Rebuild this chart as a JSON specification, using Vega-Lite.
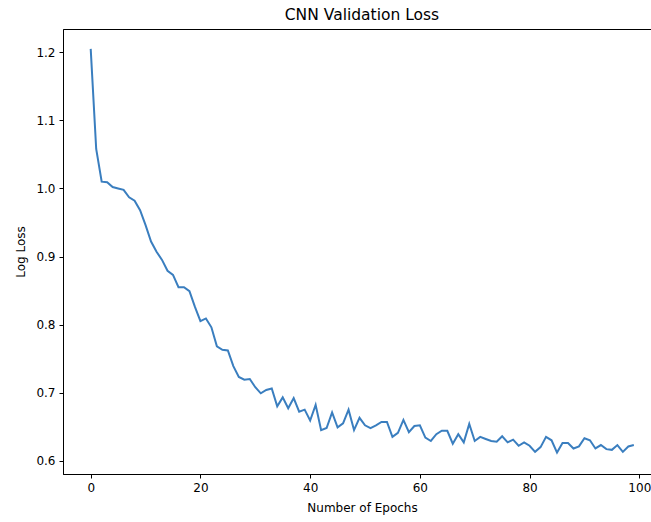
{
  "$schema": "https://vega.github.io/schema/vega-lite/v6.json",
  "autosize": "none",
  "padding": {"left": 63, "top": 29, "right": 0, "bottom": 48},
  "width": 588,
  "height": 445,
  "background": "white",
  "title": {"text": "CNN Validation Loss", "font": "DejaVu Sans", "fontSize": 15.5, "fontWeight": "normal", "color": "black", "offset": 6, "dx": 5},
  "data": {"values": [
    {"epoch": 0, "loss": 1.205}, {"epoch": 1, "loss": 1.058}, {"epoch": 2, "loss": 1.010}, {"epoch": 3, "loss": 1.009},
    {"epoch": 4, "loss": 1.002}, {"epoch": 5, "loss": 1.000}, {"epoch": 6, "loss": 0.998}, {"epoch": 7, "loss": 0.987},
    {"epoch": 8, "loss": 0.982}, {"epoch": 9, "loss": 0.968}, {"epoch": 10, "loss": 0.946}, {"epoch": 11, "loss": 0.922},
    {"epoch": 12, "loss": 0.907}, {"epoch": 13, "loss": 0.895}, {"epoch": 14, "loss": 0.879}, {"epoch": 15, "loss": 0.873},
    {"epoch": 16, "loss": 0.855}, {"epoch": 17, "loss": 0.855}, {"epoch": 18, "loss": 0.849}, {"epoch": 19, "loss": 0.826},
    {"epoch": 20, "loss": 0.805}, {"epoch": 21, "loss": 0.809}, {"epoch": 22, "loss": 0.796}, {"epoch": 23, "loss": 0.768},
    {"epoch": 24, "loss": 0.763}, {"epoch": 25, "loss": 0.762}, {"epoch": 26, "loss": 0.739}, {"epoch": 27, "loss": 0.723},
    {"epoch": 28, "loss": 0.719}, {"epoch": 29, "loss": 0.720}, {"epoch": 30, "loss": 0.708}, {"epoch": 31, "loss": 0.699},
    {"epoch": 32, "loss": 0.704}, {"epoch": 33, "loss": 0.706}, {"epoch": 34, "loss": 0.680}, {"epoch": 35, "loss": 0.693},
    {"epoch": 36, "loss": 0.677}, {"epoch": 37, "loss": 0.692}, {"epoch": 38, "loss": 0.672}, {"epoch": 39, "loss": 0.675},
    {"epoch": 40, "loss": 0.659}, {"epoch": 41, "loss": 0.682}, {"epoch": 42, "loss": 0.645}, {"epoch": 43, "loss": 0.648},
    {"epoch": 44, "loss": 0.671}, {"epoch": 45, "loss": 0.649}, {"epoch": 46, "loss": 0.655}, {"epoch": 47, "loss": 0.675},
    {"epoch": 48, "loss": 0.645}, {"epoch": 49, "loss": 0.663}, {"epoch": 50, "loss": 0.652}, {"epoch": 51, "loss": 0.648},
    {"epoch": 52, "loss": 0.652}, {"epoch": 53, "loss": 0.657}, {"epoch": 54, "loss": 0.657}, {"epoch": 55, "loss": 0.635},
    {"epoch": 56, "loss": 0.641}, {"epoch": 57, "loss": 0.660}, {"epoch": 58, "loss": 0.642}, {"epoch": 59, "loss": 0.651},
    {"epoch": 60, "loss": 0.652}, {"epoch": 61, "loss": 0.634}, {"epoch": 62, "loss": 0.629}, {"epoch": 63, "loss": 0.639},
    {"epoch": 64, "loss": 0.644}, {"epoch": 65, "loss": 0.644}, {"epoch": 66, "loss": 0.625}, {"epoch": 67, "loss": 0.639},
    {"epoch": 68, "loss": 0.627}, {"epoch": 69, "loss": 0.654}, {"epoch": 70, "loss": 0.629}, {"epoch": 71, "loss": 0.635},
    {"epoch": 72, "loss": 0.632}, {"epoch": 73, "loss": 0.629}, {"epoch": 74, "loss": 0.628}, {"epoch": 75, "loss": 0.636},
    {"epoch": 76, "loss": 0.627}, {"epoch": 77, "loss": 0.631}, {"epoch": 78, "loss": 0.622}, {"epoch": 79, "loss": 0.627},
    {"epoch": 80, "loss": 0.622}, {"epoch": 81, "loss": 0.613}, {"epoch": 82, "loss": 0.620}, {"epoch": 83, "loss": 0.635},
    {"epoch": 84, "loss": 0.630}, {"epoch": 85, "loss": 0.612}, {"epoch": 86, "loss": 0.626}, {"epoch": 87, "loss": 0.626},
    {"epoch": 88, "loss": 0.618}, {"epoch": 89, "loss": 0.621}, {"epoch": 90, "loss": 0.633}, {"epoch": 91, "loss": 0.630},
    {"epoch": 92, "loss": 0.618}, {"epoch": 93, "loss": 0.623}, {"epoch": 94, "loss": 0.617}, {"epoch": 95, "loss": 0.616},
    {"epoch": 96, "loss": 0.623}, {"epoch": 97, "loss": 0.613}, {"epoch": 98, "loss": 0.621}, {"epoch": 99, "loss": 0.623}
  ]},
  "mark": {"type": "line", "color": "#3a7ebf", "strokeWidth": 2, "clip": true},
  "encoding": {
    "x": {"field": "epoch", "type": "quantitative",
      "scale": {"domain": [-5.05, 102.13], "nice": false, "zero": false},
      "axis": {"title": "Number of Epochs", "values": [0, 20, 40, 60, 80, 100], "titlePadding": 9, "titleX": 299}},
    "y": {"field": "loss", "type": "quantitative",
      "scale": {"domain": [0.5805, 1.2342], "nice": false, "zero": false},
      "axis": {"title": "Log Loss", "values": [0.6, 0.7, 0.8, 0.9, 1.0, 1.1, 1.2], "format": ".1f", "titlePadding": 8}}
  },
  "config": {
    "view": {"stroke": "black", "strokeWidth": 1},
    "axis": {
      "grid": false, "domainColor": "black", "domainWidth": 1, "tickColor": "black", "tickSize": 4, "tickWidth": 1,
      "labelFont": "DejaVu Sans", "labelFontSize": 12, "labelColor": "black", "labelPadding": 4,
      "titleFont": "DejaVu Sans", "titleFontSize": 12, "titleFontWeight": "normal", "titleColor": "black"
    }
  }
}
